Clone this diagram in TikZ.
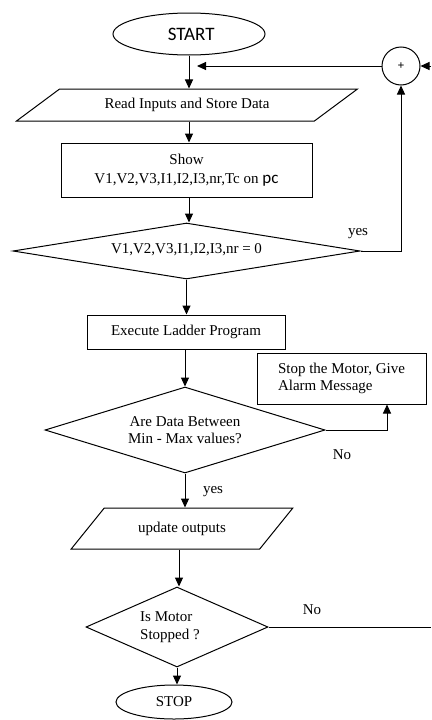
\documentclass[tikz,border=0pt]{standalone}
\usepackage{fontspec}
\setmainfont{Liberation Serif}
\newfontfamily\carlito{Carlito}
\usepackage{tikz}
\usetikzlibrary{positioning,shapes,arrows.meta}
\tikzset{
  every node/.style={font=\fontsize{15}{17.5}\selectfont},
  flow/.style={draw, line width=1pt},
  term/.style={flow, ellipse, inner sep=0pt},
  iobox/.style={flow, trapezium, trapezium stretches=true, inner sep=0pt},
  procbox/.style={flow, rectangle, inner sep=0pt},
  decide/.style={flow, diamond, inner sep=0pt},
  conn/.style={line width=1pt, -{Triangle[length=9pt,width=8pt]}},
  plain/.style={line width=1pt},
}

\begin{document}
\begin{tikzpicture}[x=1pt,y=-1pt]
\useasboundingbox (0,0) rectangle (431,720);

\node[term, minimum width=152pt, minimum height=42pt] (start) at (189,34) {\carlito\fontsize{19}{22}\selectfont\ START};
\node[iobox, trapezium left angle=26, trapezium right angle=154, minimum width=342pt, minimum height=32pt] (read) at (187,105) {Read Inputs and Store Data};
\node[procbox, minimum width=251pt, minimum height=54pt, align=center] (show) at (186.5,170) {Show\\[2pt] V1,V2,V3,I1,I2,I3,nr,Tc on {\carlito\fontsize{17}{17}\selectfont pc}};
\node[decide, aspect=6.2, minimum width=347pt, minimum height=56pt] (zerotest) at (186.5,251) {\raisebox{4pt}{V1,V2,V3,I1,I2,I3,nr = 0}};
\node[procbox, minimum width=198pt, minimum height=34pt] (ladder) at (186,332) {Execute Ladder Program\hspace{8pt}};
\node[procbox, minimum width=169pt, minimum height=51pt, align=left] (alarm) at (341.5,378.5) {Stop the Motor, Give\\Alarm Message};
\node[decide, aspect=3.26, minimum width=280pt, minimum height=86pt, align=center] (range) at (185,430) {Are Data Between\\Min - Max values?};
\node[iobox, trapezium left angle=36, trapezium right angle=144, minimum width=222pt, minimum height=41pt] (update) at (182,528.5) {update outputs};
\node[decide, aspect=2.28, minimum width=182pt, minimum height=80pt, align=left] (motor) at (177,627) {\hspace{-14pt}Is Motor\\\hspace{-14pt}Stopped ?};
\node[term, minimum width=116pt, minimum height=34pt] (stop) at (174,702) {STOP};
\node[flow, circle, minimum size=38pt, inner sep=0pt] (plus) at (401,66) {\fontsize{12}{12}\selectfont\bfseries +};

\coordinate (joint) at (197,66);
\coordinate (plusin) at (431,66);
\coordinate (alarmin) at (387,0);
\coordinate (backout) at (431,627);

\node (yesloop) at (358,234) {yes};
\node (norange) at (342,455) {No};
\node (yesrange) at (213,492) {yes};
\node (nomotor) at (312,610) {No};

\draw[conn] (start.south) -- (start.south |- read.north);
\draw[conn] (plus.west) -- (joint);
\draw[conn] (plusin) -- (plus.east);
\draw[conn] (read.south -| start.south) -- (start.south |- show.north);
\draw[conn] (show.south -| start.south) -- (start.south |- zerotest.north);
\draw[conn] (zerotest.east) -| (plus.south);
\draw[conn] (zerotest.south) -- (zerotest.south |- ladder.north);
\draw[conn] (ladder.south -| range.north) -- (range.north);
\draw[conn] (range.east) -| (alarmin |- alarm.south);
\draw[conn] (range.south) -- (range.south |- update.north);
\draw[conn] (update.south -| 179,0) -- (motor.north -| 179,0);
\draw[plain] (motor.east) -- (backout);
\draw[conn] (motor.south) -- (motor.south |- stop.north);
\end{tikzpicture}
\end{document}
